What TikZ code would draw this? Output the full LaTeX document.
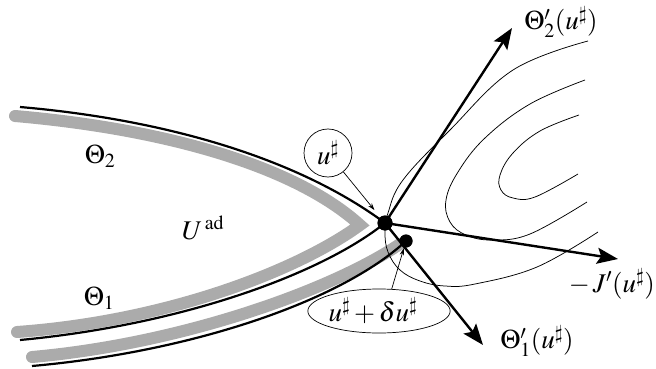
\documentclass[tikz,border=0pt]{standalone}
\usepackage{mathptmx}
\usetikzlibrary{arrows.meta,shapes.geometric}
\begin{document}
\begin{tikzpicture}[x=1pt,y=-1pt,
  grayline/.style={line width=12pt, color=black!33, line cap=round, line join=miter},
  edgeline/.style={line width=2.2pt, black},
  levelline/.style={line width=0.75pt},
  bigarrow/.style={line width=2.4pt, -{Stealth[length=21pt,width=16pt,inset=4pt]}},
  thinarrow/.style={line width=0.7pt, -{Stealth[length=7pt,width=4.5pt]}},
  dot/.style={circle, fill=black, inner sep=0pt},
  lbl/.style={font=\fontsize{27}{32}\selectfont, inner sep=0pt}]
\useasboundingbox (0,0) rectangle (656,369);

% gray boundaries
\draw[grayline] (15,116) .. controls (165,129) and (295,166) .. (360,225)
                        .. controls (300,269) and (170,321) .. (17,332);
\draw[grayline] (32,357) .. controls (180,344) and (330,291) .. (400,244);

% dots
\node[dot, minimum size=15pt] (u) at (385,223) {};
\node[dot, minimum size=13pt] (v) at (406,241) {};

% black boundaries
\draw[edgeline] (20,107) .. controls (170,120) and (300,160) .. (u.center);
\draw[edgeline] (20,340) .. controls (180,325) and (320,275) .. (u.center);
\draw[edgeline] (32,366) .. controls (190,352) and (340,302) .. (v.center);

% level sets
\draw[levelline] plot[smooth, tension=0.65] coordinates {(588,41) (513,70) (450,130) (403,180) (388,213) (385,232) (388,252) (400,270) (420,281) (445,286) (475,284) (537,267) (598,232)};
\draw[levelline] plot[smooth, tension=0.65] coordinates {(585,80) (530,104) (485,138) (458,172) (446,200) (450,222) (466,235) (492,240) (530,234) (587,202)};
\draw[levelline] plot[smooth, tension=0.65] coordinates {(579,115) (540,131) (513,153) (500,175) (501,190) (513,198) (535,197) (578,174)};

% direction arrows
\coordinate (t2) at (512,28);
\coordinate (tj) at (618,259);
\coordinate (t1) at (483,345);
\draw[bigarrow] (u.center) -- (t2);
\draw[bigarrow] (u.center) -- (tj);
\draw[bigarrow] (u.center) -- (t1);
\node[dot, minimum size=15pt] at (u) {};
\node[dot, minimum size=13pt] at (v) {};

% labels
\node[lbl] (l2) at (561,22) {$\Theta'_2(u^\sharp)$};
\node[lbl, anchor=east] (lj) at (655,284) {$-\,J'(u^\sharp)$};
\node[lbl] (l1) at (537,341) {$\Theta'_1(u^\sharp)$};
\node[lbl] (th2) at (100,156) {$\Theta_2$};
\node[lbl] (th1) at (99,298) {$\Theta_1$};
\node[lbl] (uad) at (203,228) {$U^{\,\mathrm{ad}}$};

\node[lbl, draw, line width=0.7pt, circle, minimum size=48pt] (lu) at (328,153) {$u^\sharp$};
\node[lbl, draw, line width=0.7pt, ellipse, minimum width=128pt, minimum height=44pt] (lv) at (379,311) {$u^\sharp+\delta u^\sharp$\hspace*{12pt}};

\draw[thinarrow, shorten >=9pt] (lu) -- (u);
\draw[thinarrow, shorten >=1pt] (lv.60) -- (v);
\end{tikzpicture}
\end{document}
